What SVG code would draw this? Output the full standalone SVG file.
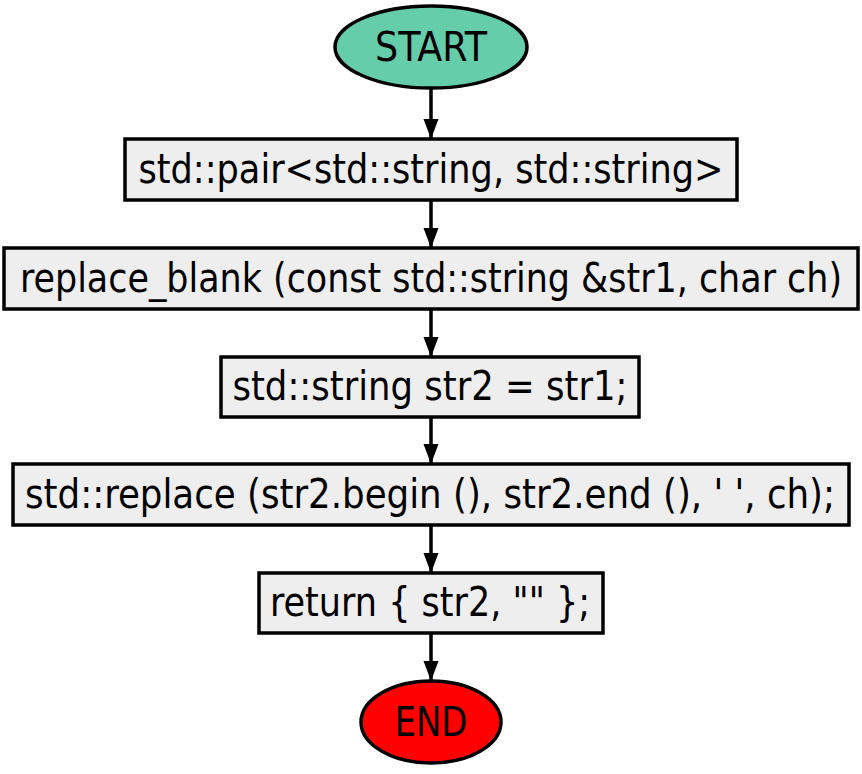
<svg xmlns="http://www.w3.org/2000/svg" width="862" height="774" viewBox="0 0 862 774">
<style>
.box{fill:#eeeeee;stroke:#000;stroke-width:3.5}
.t{font-family:"DejaVu Sans",sans-serif;font-stretch:condensed;font-size:40px;fill:#000;text-anchor:middle}
.c{stroke:#000;stroke-width:3.5;fill:none;marker-end:url(#ah)}
</style>
<defs>
<marker id="ah" markerWidth="20" markerHeight="16" refX="19" refY="8" orient="auto" markerUnits="userSpaceOnUse" viewBox="0 0 20 16">
<path d="M0,0.5 L20,8 L0,15.5 z" fill="#000"/>
</marker>
</defs>
<rect width="862" height="774" fill="#fff"/>
<g id="connectors">
<path class="c" d="M431,89 V138"/>
<path class="c" d="M431,201 V247"/>
<path class="c" d="M431,310 V356"/>
<path class="c" d="M431,418 V463"/>
<path class="c" d="M431,526 V572"/>
<path class="c" d="M431,634 V680"/>
</g>
<g id="start">
<ellipse cx="431" cy="47" rx="96" ry="41" fill="#66cdaa" stroke="#000" stroke-width="3.5"/>
<text class="t" x="431" y="61" textLength="112" lengthAdjust="spacingAndGlyphs">START</text>
</g>
<g id="n1">
<rect class="box" x="125" y="139" width="612" height="61"/>
<text class="t" x="431" y="183" textLength="585" lengthAdjust="spacingAndGlyphs">std::pair&lt;std::string, std::string&gt;</text>
</g>
<g id="n2">
<rect class="box" x="4" y="248" width="854" height="61"/>
<text class="t" x="431" y="292" textLength="822" lengthAdjust="spacingAndGlyphs">replace_blank (const std::string &amp;str1, char ch)</text>
</g>
<g id="n3">
<rect class="box" x="221" y="357" width="418" height="60"/>
<text class="t" x="430" y="400" textLength="395" lengthAdjust="spacingAndGlyphs">std::string str2 = str1;</text>
</g>
<g id="n4">
<rect class="box" x="13" y="464" width="836" height="61"/>
<text class="t" x="430" y="508" textLength="810" lengthAdjust="spacingAndGlyphs">std::replace (str2.begin (), str2.end (), ' ', ch);</text>
</g>
<g id="n5">
<rect class="box" x="259" y="573" width="344" height="60"/>
<text class="t" x="430" y="616" textLength="320" lengthAdjust="spacingAndGlyphs">return { str2, "" };</text>
</g>
<g id="end">
<ellipse cx="431" cy="722" rx="70" ry="41" fill="#ff0000" stroke="#000" stroke-width="3.5"/>
<text class="t" x="431" y="736" textLength="73" lengthAdjust="spacingAndGlyphs">END</text>
</g>
</svg>
